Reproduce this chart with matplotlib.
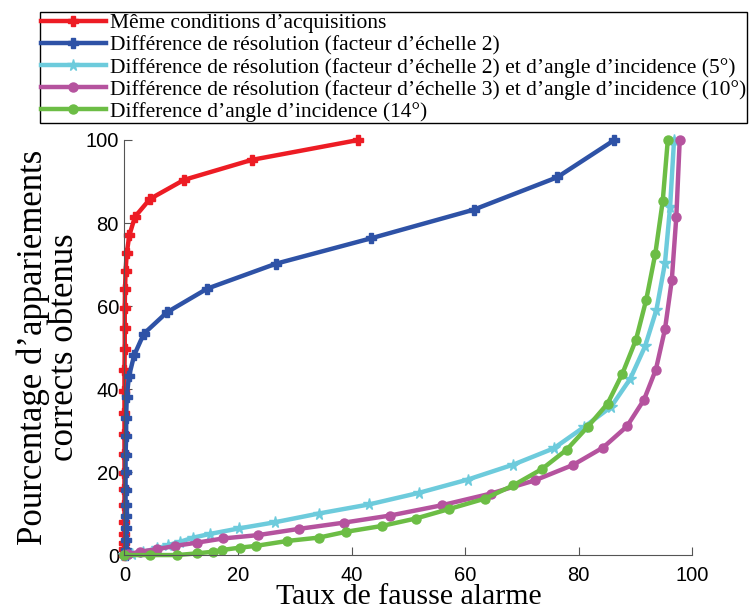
import matplotlib
matplotlib.use("Agg")
import matplotlib.pyplot as plt

# Taux de fausse alarme (x) / pourcentage d'appariements corrects (y)
red_x = [0, 0, 0, 0, 0, 0, 0, 0, 0, 0, 0, 0, 0, 0.05, 0.05, 0.05, 0.1, 0.2, 0.4, 0.85, 1.85, 4.5, 10.5, 22.4, 41.2]
red_y = [0, 1.5, 3, 5, 8, 12, 16, 19.8, 24.4, 29.2, 34.2, 39.6, 44.6, 49.7, 54.7, 59.5, 64, 68.4, 72.7, 77, 81.5, 85.8, 90.4, 95.2, 100]

blue_x = [0.2, 0.2, 0.2, 0.2, 0.2, 0.2, 0.2, 0.2, 0.2, 0.3, 0.3, 0.4, 0.8, 1.7, 3.4, 7.5, 14.6, 26.7, 43.4, 61.5, 76.2, 86.3]
blue_y = [0, 1.3, 3.7, 6.5, 9.3, 12.1, 15.7, 20.0, 24.1, 28.6, 33.1, 38.1, 43.1, 48.1, 53.3, 58.5, 64.2, 70.2, 76.3, 83.2, 91, 100]

cyan_x = [0, 1.3, 3.3, 5.7, 7.7, 9.8, 12.1, 15.1, 20.1, 26.5, 34.2, 43.1, 51.9, 60.5, 68.5, 75.6, 81.0, 85.7, 89.1, 91.7, 93.7, 95.2, 96.1, 96.8]
cyan_y = [0, 0.3, 0.8, 1.6, 2.4, 3.2, 4.2, 5.1, 6.4, 7.9, 10.0, 12.2, 15.0, 18.2, 21.8, 25.7, 30.9, 35.7, 42.5, 50.3, 59.1, 70.3, 83.8, 100]

mag_x = [0, 0.7, 2.7, 5.7, 8.9, 12.8, 17.4, 23.5, 30.7, 38.6, 46.7, 55.9, 64.5, 72.3, 79.0, 84.3, 88.5, 91.5, 93.6, 95.2, 96.4, 97.2, 97.8]
mag_y = [0, 0.2, 0.8, 1.4, 2.2, 3.0, 4.0, 4.8, 6.3, 7.8, 9.5, 12.0, 14.8, 18.0, 21.7, 25.9, 31.0, 37.4, 44.7, 54.4, 66.2, 81.5, 100]

green_x = [0, 4.5, 9.3, 12.7, 15.6, 17.1, 20.4, 23.1, 28.7, 34.2, 39.0, 45.3, 51.3, 57.2, 63.5, 68.5, 73.5, 77.9, 81.6, 85.1, 87.7, 90.1, 91.9, 93.5, 94.8, 95.7]
green_y = [0, 0, 0, 0.4, 0.8, 1.2, 1.8, 2.2, 3.4, 4.2, 5.6, 7.0, 8.8, 11.1, 13.6, 16.8, 20.7, 25.4, 30.9, 36.5, 43.7, 51.9, 61.5, 72.6, 85.2, 100]

labels = [
    "Même conditions d’acquisitions",
    "Différence de résolution (facteur d’échelle 2)",
    "Différence de résolution (facteur d’échelle 2) et d’angle d’incidence (5°)",
    "Différence de résolution (facteur d’échelle 3) et d’angle d’incidence (10°)",
    "Difference d’angle d’incidence (14°)",
]

serif = "Liberation Serif"

fig = plt.figure(figsize=(7.52, 6.14), dpi=100)
ax = fig.add_axes([0.1655, 0.096, 0.755, 0.676])

lw = 3.2
ax.plot(red_x, red_y, color="#ED1C24", lw=lw, marker="P", ms=6.5, clip_on=False, label=labels[0])
ax.plot(blue_x, blue_y, color="#2E52A6", lw=lw, marker="P", ms=6.5, clip_on=False, label=labels[1])
ax.plot(cyan_x, cyan_y, color="#6DCBDC", lw=lw, marker="*", ms=8.5, clip_on=False, label=labels[2])
ax.plot(mag_x, mag_y, color="#B5539E", lw=lw, marker="o", ms=6.5, clip_on=False, label=labels[3])
ax.plot(green_x, green_y, color="#6CBD45", lw=lw, marker="o", ms=6.5, clip_on=False, label=labels[4])

ax.set_xlim(0, 100)
ax.set_ylim(0, 100)
ax.set_xticks([0, 20, 40, 60, 80, 100])
ax.set_yticks([0, 20, 40, 60, 80, 100])
ax.spines["top"].set_visible(False)
ax.spines["right"].set_visible(False)
ax.spines["left"].set_color("#555555")
ax.spines["bottom"].set_color("#555555")
ax.tick_params(direction="in", length=6, color="#555555", labelsize=14.5)
ax.tick_params(axis="x", pad=8)
ax.tick_params(axis="y", pad=4)
for t in ax.get_xticklabels() + ax.get_yticklabels():
    t.set_fontfamily("Liberation Sans")

ax.set_xlabel("Taux de fausse alarme", fontfamily=serif, fontsize=21.5, labelpad=-1)
ax.set_ylabel("Pourcentage d’appariements\ncorrects obtenus", fontfamily=serif, fontsize=25,
              labelpad=3, linespacing=0.95)

leg = fig.legend(loc="upper left", bbox_to_anchor=(40 / 752, 1 - 12 / 614), prop={"family": serif, "size": 15.5},
                 handlelength=3.0, handletextpad=0.2, labelspacing=0.1, borderpad=0.05,
                 fancybox=False, edgecolor="black", framealpha=1, borderaxespad=0)
leg.get_frame().set_linewidth(1.0)

fig.savefig("out.png", dpi=100)
